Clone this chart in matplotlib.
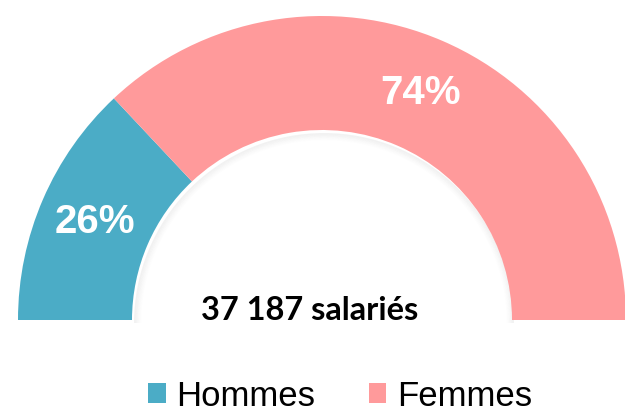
import numpy as np
import matplotlib

matplotlib.use("Agg")
import matplotlib.pyplot as plt
from matplotlib.patches import Wedge, Patch

# Données
categories = ["Hommes", "Femmes"]
parts = [26, 74]
total_label = "37 187 salariés"
colors = ["#4bacc6", "#ff9a9b"]

W, H = 625, 415
cx, cy = 322, 95          # centre du demi-anneau (pixels, y vers le haut)
r_out, r_in = 304, 190

fig = plt.figure(figsize=(W / 100, H / 100), dpi=100)
ax = fig.add_axes([0, 0, 1, 1])

# demi-donut : la moitié basse est une part invisible
vals = parts + [sum(parts)]
wedges, _ = ax.pie(
    vals,
    colors=colors + ["none"],
    startangle=180,
    counterclock=False,
    radius=r_out,
    center=(cx, cy),
    wedgeprops=dict(width=r_out - r_in, linewidth=0),
)

# ombre légère sur le bord intérieur
for k in range(6):
    ax.add_patch(Wedge((cx + 2, cy - 3), r_in - k * 1.2, 0, 180,
                       width=1.3, facecolor="#000000", alpha=0.05 * (6 - k) / 6,
                       linewidth=0, zorder=0.5))

# étiquettes de pourcentage au milieu de chaque part
r_lab = (r_out + r_in) / 2
for w, p in zip(wedges[:2], parts):
    mid = np.deg2rad((w.theta1 + w.theta2) / 2)
    ax.text(cx + r_lab * np.cos(mid), cy + r_lab * np.sin(mid), f"{p}%",
            ha="center", va="center", color="white", fontsize=29,
            fontweight="bold", family="Liberation Sans")

ax.text(310, 104, total_label, ha="center", va="center", fontsize=23.5,
        fontweight="bold", family="Lato", color="black")

handles = [Patch(facecolor=c, edgecolor="none", label=l) for c, l in zip(colors, categories)]
ax.legend(handles=handles, loc="center", bbox_to_anchor=(340, 19),
          bbox_transform=ax.transData, ncol=2, frameon=False,
          prop=dict(family="Liberation Sans", size=25),
          handlelength=0.5, handleheight=0.5, handletextpad=0.3,
          columnspacing=1.55, borderpad=0)

ax.set_xlim(0, W)
ax.set_ylim(0, H)
ax.set_aspect("equal")
ax.axis("off")

fig.savefig("out.png", dpi=100)
